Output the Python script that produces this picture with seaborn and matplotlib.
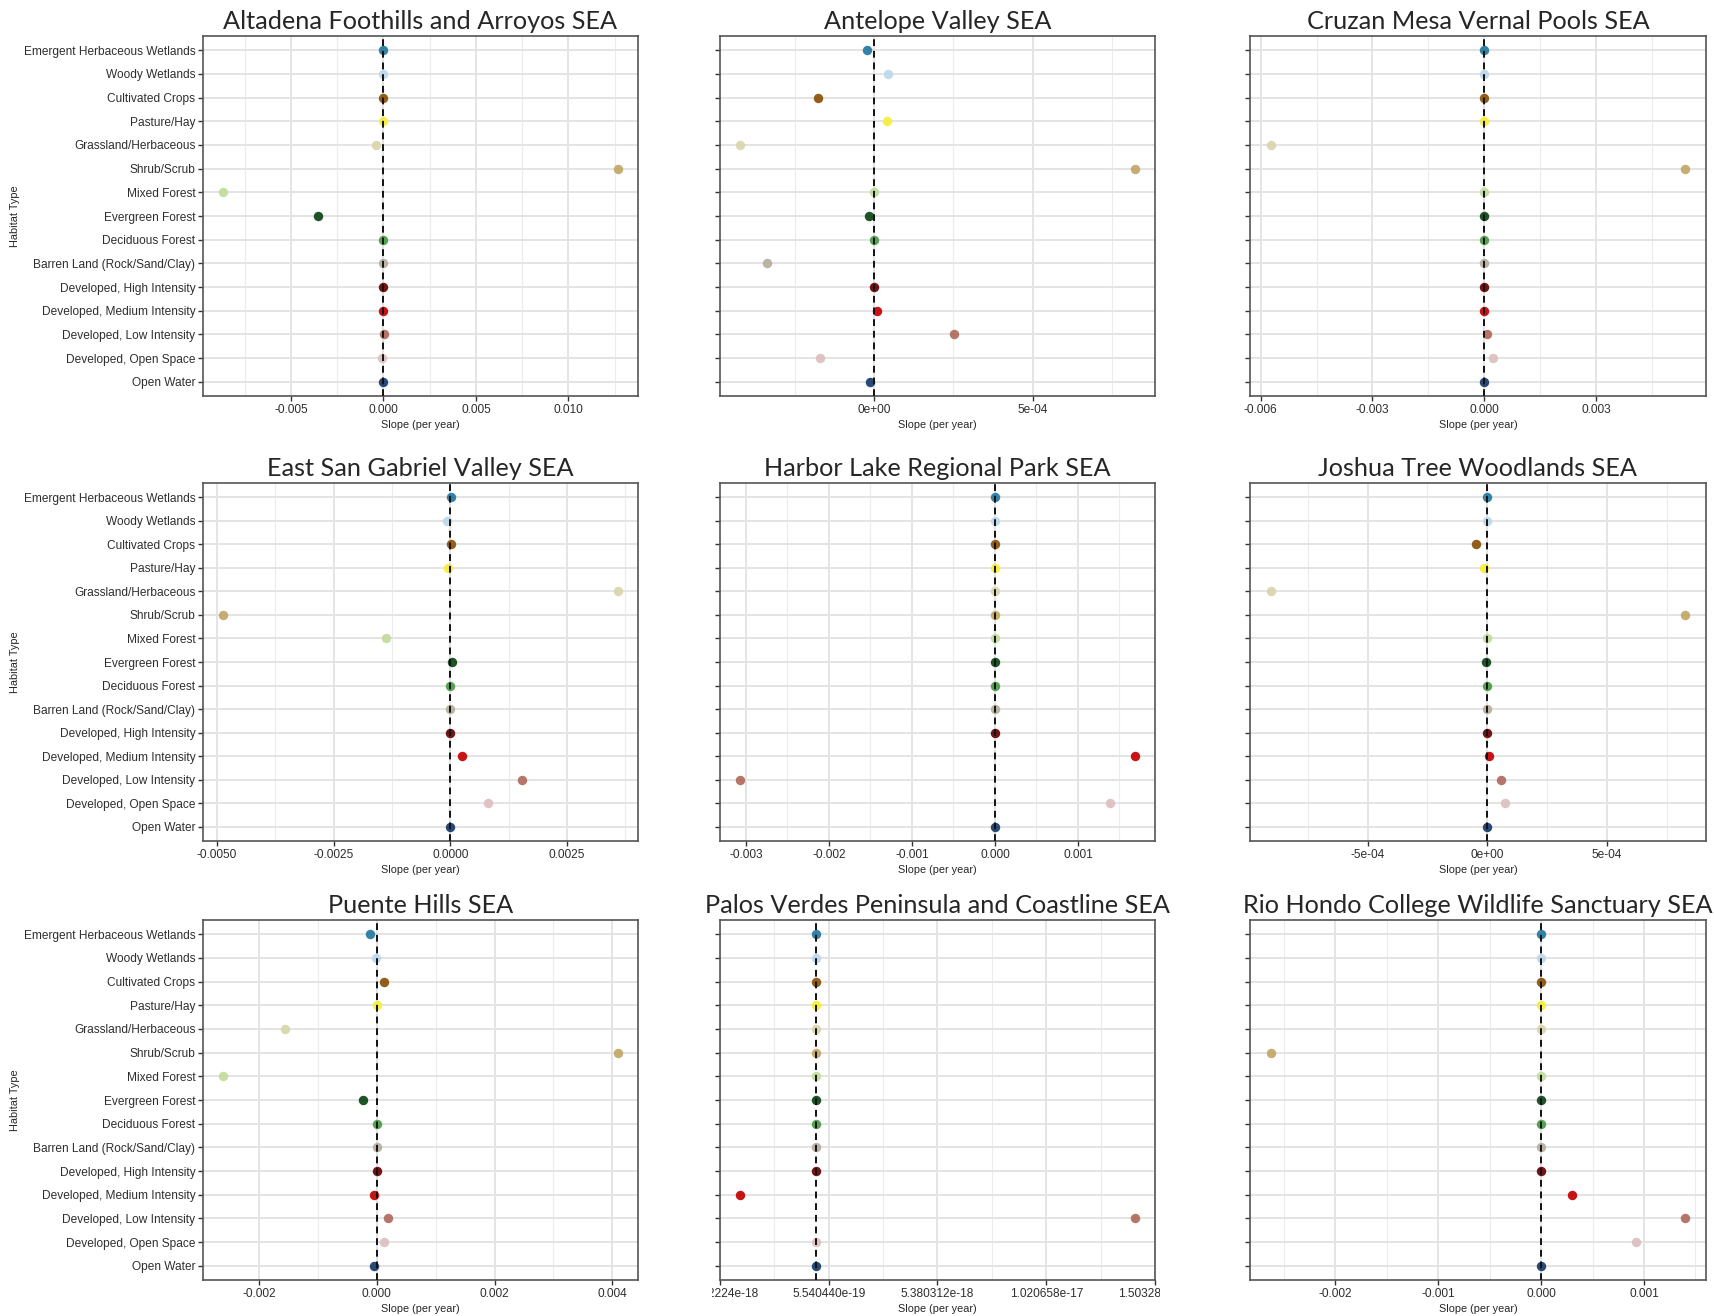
import numpy as np
import pandas as pd
import matplotlib
matplotlib.use("Agg")
import matplotlib.pyplot as plt
from matplotlib.ticker import MultipleLocator, FixedLocator, FuncFormatter
from matplotlib.transforms import Bbox, TransformedBbox
import seaborn as sns

habitats = ["Emergent Herbaceous Wetlands", "Woody Wetlands", "Cultivated Crops",
            "Pasture/Hay", "Grassland/Herbaceous", "Shrub/Scrub", "Mixed Forest",
            "Evergreen Forest", "Deciduous Forest", "Barren Land (Rock/Sand/Clay)",
            "Developed, High Intensity", "Developed, Medium Intensity",
            "Developed, Low Intensity", "Developed, Open Space", "Open Water"]
habitat_colors = ["#23789f", "#bcd8ec", "#8a5006", "#f6ee3a", "#d8d6ad", "#c2a766",
                  "#c2dc9c", "#0b4515", "#4a9a46", "#b5ae9e", "#690000", "#c40000",
                  "#b06a5c", "#dcbfbf", "#173a6c"]

titles = ["Altadena Foothills and Arroyos SEA", "Antelope Valley SEA",
          "Cruzan Mesa Vernal Pools SEA", "East San Gabriel Valley SEA",
          "Harbor Lake Regional Park SEA", "Joshua Tree Woodlands SEA",
          "Puente Hills SEA", "Palos Verdes Peninsula and Coastline SEA",
          "Rio Hondo College Wildlife Sanctuary SEA"]

# slope (per year), same habitat order as above
altadena = [0.0, 0.0, 0.0, 0.0, -0.00039, 0.01269, -0.00868, -0.00352, 0.0, 0.0,
            0.0, 0.0, 0.00005, -0.00005, 0.0]
antelope = [-2.1e-5, 4.4e-5, -1.76e-4, 4.0e-5, -4.24e-4, 8.24e-4, 0.0, -1.5e-5, 0.0,
            -3.37e-4, 0.0, 1.0e-5, 2.53e-4, -1.70e-4, -1.2e-5]
cruzan = [0.0, 0.0, 0.0, 0.0, -0.00573, 0.00539, 0.0, 0.0, 0.0, 0.0,
          0.0, 0.0, 0.000084, 0.000234, 0.0]
east_sgv = [0.00002, -0.00006, 0.00002, -0.00005, 0.0036, -0.004873, -0.001374, 0.00004,
            0.0, 0.0, 0.0, 0.000262, 0.001528, 0.000805, 0.0]
harbor = [0.0, 0.0, 0.0, 0.0, 0.0, 0.0, 0.0, 0.0, 0.0, 0.0,
          0.0, 0.00169, -0.003073, 0.001388, 0.0]
joshua = [0.0, -3e-6, -4.67e-5, -1.46e-5, -9.04e-4, 8.26e-4, 0.0, -4e-6, 0.0, 0.0,
          0.0, 7e-6, 5.5e-5, 7.4e-5, 0.0]
puente = [-0.000108, -0.000014, 0.000129, 0.0, -0.001563, 0.0041, -0.002616, -0.000229,
          0.0, 0.0, 0.00001, -0.00005, 0.000186, 0.000129, -0.000043]
palos = [0.0, 0.0, 0.0, 0.0, 0.0, 0.0, 0.0, 0.0, 0.0, 0.0,
         0.0, -3.394720727e-18, 1.415534473e-17, 0.0, 0.0]
rio_hondo = [0.0, 0.0, 0.0, 0.0, 0.0, -0.002629, 0.0, 0.0, 0.0, 0.0,
             0.0, 0.000296, 0.001401, 0.000922, 0.0]

series = [altadena, antelope, cruzan, east_sgv, harbor, joshua, puente, palos, rio_hondo]
tick_steps = [0.005, 5e-4, 0.003, 0.0025, 0.001, 5e-4, 0.002, None, 0.001]
tick_formats = ["{:.3f}", "{:.0e}", "{:.3f}", "{:.4f}", "{:.3f}", "{:.0e}", "{:.3f}",
                "{:.6e}", "{:.3f}"]

palette = dict(zip(habitats, habitat_colors))

W, H = 1715, 1316
fig = plt.figure(figsize=(W / 100, H / 100), dpi=100)

col_x = [(203, 638), (720, 1155), (1250, 1706)]
row_y = [(36, 396), (483, 841), (920, 1280)]

sns.set_style("white")
plt.rcParams["font.family"] = ["Liberation Sans", "DejaVu Sans"]

for i, (title, vals) in enumerate(zip(titles, series)):
    r, c = divmod(i, 3)
    x0, x1 = col_x[c]
    y0, y1 = row_y[r]
    ax = fig.add_axes([x0 / W, 1 - y1 / H, (x1 - x0) / W, (y1 - y0) / H])
    df = pd.DataFrame({"habitat": habitats, "slope": vals})
    sns.stripplot(data=df, x="slope", y="habitat", hue="habitat", order=habitats,
                  palette=palette, jitter=False, size=6.8, linewidth=0,
                  alpha=0.92, legend=False, ax=ax, zorder=3)
    ax.axvline(0, color="#111111", ls=(0, (3.5, 2.5)), lw=1.4, zorder=4)

    lo, hi = min(vals), max(vals)
    pad = (hi - lo) * 0.05
    ax.set_xlim(lo - pad, hi + pad)
    ax.set_ylim(len(habitats) - 0.4, -0.6)

    step = tick_steps[i]
    fmt = tick_formats[i]
    if step is None:
        major = np.linspace(lo - pad, hi + pad, 5)
        ax.xaxis.set_major_locator(FixedLocator(major))
        ax.xaxis.set_minor_locator(FixedLocator((major[:-1] + major[1:]) / 2))
        ax.xaxis.set_major_formatter(FuncFormatter(lambda v, p, f=fmt: f.format(v)))
    else:
        ax.xaxis.set_major_locator(MultipleLocator(step))
        ax.xaxis.set_minor_locator(MultipleLocator(step / 2))
        ax.xaxis.set_major_formatter(FuncFormatter(
            lambda v, p, f=fmt, s=step: f.format(0.0 if abs(v) < s * 1e-6 else v)))

    ax.grid(True, which="major", color="#e4e4e4", lw=1.4, zorder=0)
    ax.grid(True, which="minor", axis="x", color="#ececec", lw=0.8, zorder=0)
    ax.set_axisbelow(True)
    for sp in ax.spines.values():
        sp.set_color("#555555")
        sp.set_linewidth(1.2)

    ax.tick_params(axis="both", which="major", length=3.5, width=1.0, color="#333333",
                   labelcolor="#2e2e2e", labelsize=8.6, pad=2, bottom=True, left=True)
    ax.tick_params(axis="x", which="minor", length=0)
    ax.set_xlabel("Slope (per year)", fontsize=7.8, labelpad=3)
    if c == 0:
        ax.set_ylabel("Habitat Type", fontsize=7.8)
        ax.yaxis.set_label_coords(-0.421, 0.5)
    else:
        ax.set_ylabel("")
        ax.tick_params(axis="y", labelleft=False)
    ax.set_title(title, fontsize=18.2, family="Lato", pad=5)

    if step is None:
        clip = TransformedBbox(Bbox([[712 / W, 0.0], [1160 / W, 0.35]]), fig.transFigure)
        for lab in ax.get_xticklabels():
            lab.set_clip_on(True)
            lab.set_clip_box(clip)

fig.savefig("out.png", dpi=100)
